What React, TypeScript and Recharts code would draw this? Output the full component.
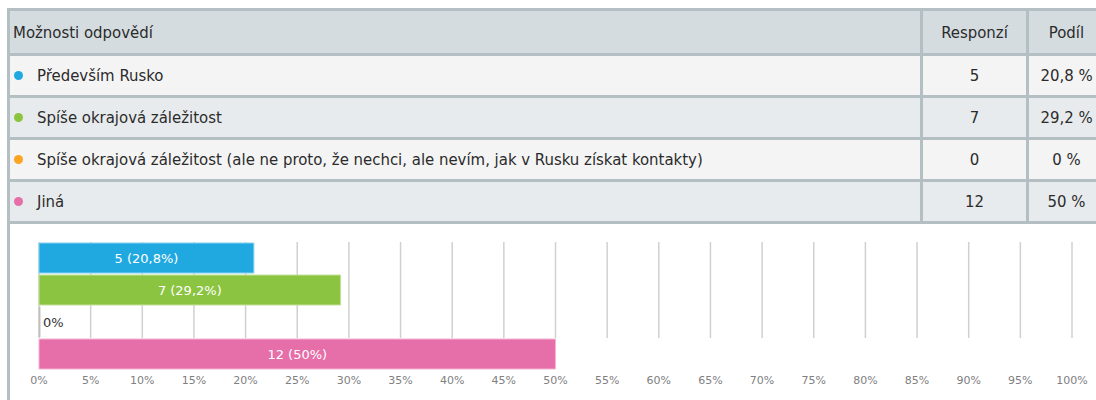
import React from 'react';
import { BarChart, Bar, XAxis, YAxis, CartesianGrid, Cell, LabelList } from 'recharts';

const answers = [
  'Především Rusko',
  'Spíše okrajová záležitost',
  'Spíše okrajová záležitost (ale ne proto, že nechci, ale nevím, jak v Rusku získat kontakty)',
  'Jiná',
];
const responses = [5, 7, 0, 12];
const shares = [20.8, 29.2, 0, 50];
const shareTexts = ['20,8 %', '29,2 %', '0 %', '50 %'];
const barLabels = ['5 (20,8%)', '7 (29,2%)', '0%', '12 (50%)'];
const colors = ['#20a9e1', '#8bc441', '#fba523', '#e66ea9'];
const edgeColors = ['#86d2f2', '#c3e39c', '#b9c6d6', '#f3b3d2'];
const xTicks = [0, 5, 10, 15, 20, 25, 30, 35, 40, 45, 50, 55, 60, 65, 70, 75, 80, 85, 90, 95, 100];

const TABLE_FONT = '"DejaVu Sans Condensed", "Liberation Sans Narrow", sans-serif';
const CHART_FONT = '"DejaVu Sans", sans-serif';
const BORDER = '3px solid #b4bfc4';

const CHART_W = 1096;
const CHART_H = 176;
const MARGIN = { top: 18, right: 24, left: 39, bottom: 0 };
const AXIS_H = 30;
const plotH = CHART_H - MARGIN.top - MARGIN.bottom - AXIS_H;
const bandH = plotH / answers.length;

const data = answers.map((name, i) => ({
  name,
  share: shares[i],
  label: barLabels[i],
}));

const renderLabel = (props: any) => {
  const { x, y, width, height, value } = props;
  if (width < 3) {
    return (
      <text x={x + width + 3} y={y + height / 2} dy="0.35em" fill="#333" fontSize={13} fontFamily={CHART_FONT}>
        {value}
      </text>
    );
  }
  return (
    <text x={x + width / 2} y={y + height / 2} dy="0.35em" textAnchor="middle" fill="#fff" fontSize={13} fontFamily={CHART_FONT}>
      {value}
    </text>
  );
};

// grid stops at the top of the last band, like the original
const gridLine = (p: any) => (
  <line key={p.key} x1={p.x1} x2={p.x2} y1={p.y1} y2={p.y2 - bandH} stroke="#d0d0d0" strokeWidth={1.5} />
);

const cell = (w: number | string, extra: React.CSSProperties = {}): React.CSSProperties => ({
  width: w,
  display: 'flex',
  alignItems: 'center',
  boxSizing: 'border-box',
  whiteSpace: 'nowrap',
  ...extra,
});

const Row: React.FC<{ bg: string; h: number; children: React.ReactNode }> = ({ bg, h, children }) => (
  <div style={{ display: 'flex', height: h, background: bg, borderBottom: BORDER }}>{children}</div>
);

export default function App() {
  return (
    <div style={{ position: 'absolute', left: 0, top: 0, width: 1096, height: 400, overflow: 'hidden', background: '#fff' }}>
      <div
        style={{
          position: 'absolute', left: 7, top: 8, width: 1094, height: 500,
          borderLeft: BORDER, borderTop: BORDER, borderRight: BORDER,
          fontFamily: TABLE_FONT, fontSize: 16.6, color: '#2b2b2b',
        }}
      >
        <Row bg="#d5dce0" h={42}>
          <div style={cell(910, { paddingLeft: 3 })}>Možnosti odpovědí</div>
          <div style={cell(106, { borderLeft: BORDER, justifyContent: 'center' })}>Responzí</div>
          <div style={cell(78, { borderLeft: BORDER, justifyContent: 'center' })}>Podíl</div>
        </Row>
        {answers.map((a, i) => (
          <Row key={a} bg={i % 2 === 0 ? '#f4f4f4' : '#e8ebed'} h={39}>
            <div style={cell(910)}>
              <span style={{ width: 9, height: 9, borderRadius: 5, background: colors[i], marginLeft: 4, marginRight: 14, flexShrink: 0 }} />
              {a}
            </div>
            <div style={cell(106, { borderLeft: BORDER, justifyContent: 'center' })}>{responses[i]}</div>
            <div style={cell(78, { borderLeft: BORDER, justifyContent: 'center' })}>{shareTexts[i]}</div>
          </Row>
        ))}
      </div>
      <div style={{ position: 'absolute', left: 0, top: 224 }}>
        <BarChart width={CHART_W} height={CHART_H} data={data} layout="vertical" margin={MARGIN}>
          <CartesianGrid horizontal={false} vertical={gridLine} />
          <XAxis
            type="number"
            domain={[0, 100]}
            ticks={xTicks}
            tickFormatter={(v) => `${v}%`}
            height={AXIS_H}
            axisLine={false}
            tickLine={false}
            tickSize={4}
            tickMargin={2}
            tick={{ fill: '#808080', fontSize: 11, fontFamily: CHART_FONT }}
            interval={0}
          />
          <YAxis type="category" dataKey="name" hide />
          <Bar dataKey="share" barSize={30} strokeWidth={1} minPointSize={1} isAnimationActive={false}>
            {data.map((d, i) => (
              <Cell key={d.name} fill={colors[i]} stroke={edgeColors[i]} />
            ))}
            <LabelList dataKey="label" content={renderLabel} />
          </Bar>
        </BarChart>
      </div>
    </div>
  );
}
